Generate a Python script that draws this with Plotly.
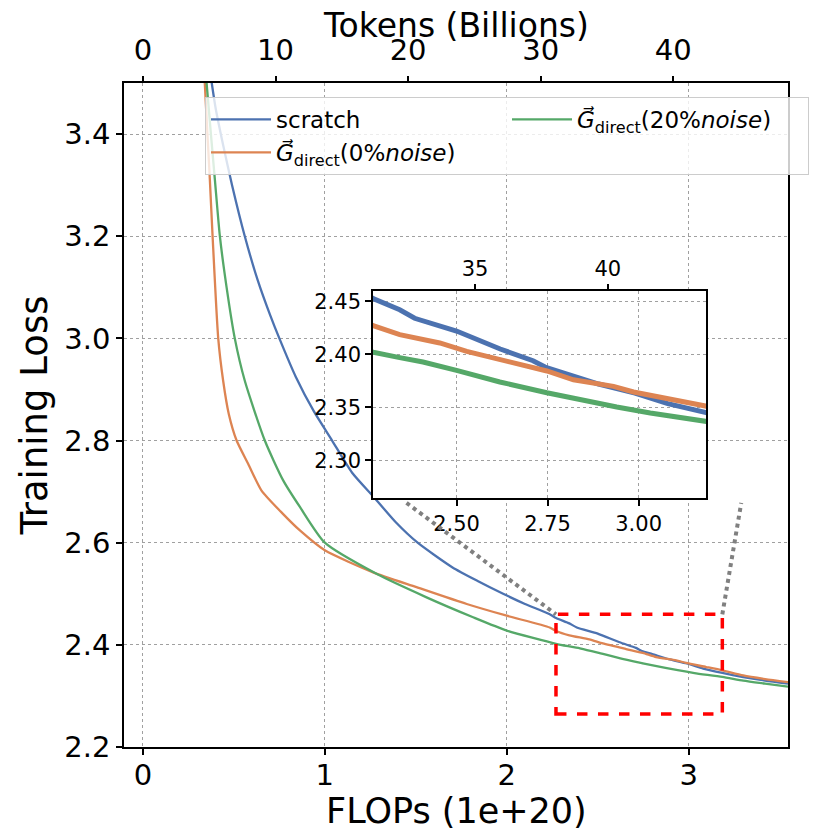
import plotly.graph_objects as go

# Data ------------------------------------------------------------------
# x = FLOPs (1e+20), y = training loss
scratch_flops = [0.37, 0.40, 0.44, 0.49, 0.56, 0.63, 0.70, 0.75, 0.84, 0.94, 1.04, 1.15, 1.27,
                 1.39, 1.51, 1.70, 1.84, 1.98, 2.10, 2.236, 2.271, 2.344, 2.385, 2.50, 2.62,
                 2.71, 2.743, 2.80, 2.89, 2.99, 3.08, 3.185, 3.30, 3.42, 3.546]
scratch_loss = [3.52, 3.45, 3.38, 3.30, 3.20, 3.115, 3.045, 3.00, 2.925, 2.857, 2.80, 2.737, 2.689,
                2.64, 2.60, 2.552, 2.525, 2.50, 2.48, 2.46, 2.4525, 2.442, 2.434, 2.422, 2.405,
                2.394, 2.388, 2.382, 2.372, 2.3635, 2.3535, 2.345, 2.337, 2.330, 2.324]

noise0_flops = [0.335, 0.34, 0.368, 0.383, 0.414, 0.441, 0.472, 0.515, 0.579, 0.652, 0.771, 0.863,
                1.0, 1.265, 1.504, 1.78, 2.0, 2.236, 2.271, 2.344, 2.454, 2.528, 2.656, 2.748,
                2.821, 2.931, 2.986, 3.096, 3.185, 3.30, 3.42, 3.546]
noise0_loss = [3.55, 3.50, 3.31, 3.20, 3.00, 2.917, 2.852, 2.80, 2.754, 2.702, 2.656, 2.624,
               2.585, 2.542, 2.513, 2.48, 2.457, 2.434, 2.427, 2.4186, 2.4107, 2.4028, 2.3918, 2.3843,
               2.376, 2.3698, 2.3645, 2.3566, 2.350, 2.340, 2.333, 2.327]

noise20_flops = [0.345, 0.35, 0.396, 0.423, 0.46, 0.505, 0.56, 0.67, 0.771, 0.863, 1.0, 1.284,
                 1.559, 1.815, 2.0, 2.271, 2.344, 2.408, 2.5, 2.619, 2.748, 2.803, 2.94, 3.032,
                 3.185, 3.30, 3.42, 3.546]
noise20_loss = [3.53, 3.50, 3.309, 3.20, 3.10, 3.00, 2.917, 2.80, 2.722, 2.67, 2.60, 2.539,
                2.493, 2.454, 2.428, 2.402, 2.3969, 2.3928, 2.3849, 2.3739, 2.3638, 2.3597, 2.3503, 2.3447,
                2.3371, 2.330, 2.324, 2.318]

series_names = ['scratch',
                '<i>G⃗</i><sub>direct</sub>(0%<i>noise</i>)',
                '<i>G⃗</i><sub>direct</sub>(20%<i>noise</i>)']
series_colors = ['#4C72B0', '#DD8452', '#55A868']
legend_ranks = [1, 3, 2]   # matplotlib ncol=2 fills column-wise

# Axis setup
tokens_per_flop = 13.72                     # billions of tokens per 1e20 FLOPs
main_x_range = [-0.104, 3.546]
main_y_range = [2.2, 3.5]
main_x_ticks = [0, 1, 2, 3]
token_ticks = [0, 10, 20, 30, 40]
zoom_x_range = [2.2706, 3.185]
zoom_y_range = [2.2645, 2.4597]
zoom_x_ticks = [2.5, 2.75, 3.0]
zoom_token_ticks = [35, 40]
# inset connector end points on the main axes
connector_left = (1.449, 2.678)
connector_right = (3.289, 2.678)

FONT = 'DejaVu Sans'
GRID = dict(showgrid=True, gridcolor='#a0a0a0', griddash='dot', gridwidth=1.2, zeroline=False)
FRAME = dict(showline=True, linecolor='black', linewidth=1.6, mirror=True,
             ticks='outside', ticklen=6, tickwidth=1.5, tickcolor='black')

fig = go.Figure()

data = [(scratch_flops, scratch_loss), (noise0_flops, noise0_loss), (noise20_flops, noise20_loss)]

# Main curves
for (xs, ys), name, color, rank in zip(data, series_names, series_colors, legend_ranks):
    fig.add_trace(go.Scatter(x=xs, y=ys, mode='lines', name=name, legendrank=rank,
                             line=dict(color=color, width=2.3, shape='spline', smoothing=0.6),
                             xaxis='x', yaxis='y'))

# Inset curves (same data, zoomed axes)
for (xs, ys), name, color in zip(data, series_names, series_colors):
    fig.add_trace(go.Scatter(x=xs, y=ys, mode='lines', name=name, showlegend=False,
                             line=dict(color=color, width=5), xaxis='x3', yaxis='y3'))

# invisible copies so the token (top) axes get drawn
fig.add_trace(go.Scatter(x=[v * tokens_per_flop for v in scratch_flops], y=scratch_loss,
                         mode='lines', opacity=0, showlegend=False, hoverinfo='skip',
                         xaxis='x2', yaxis='y'))
fig.add_trace(go.Scatter(x=[v * tokens_per_flop for v in scratch_flops], y=scratch_loss,
                         mode='lines', opacity=0, showlegend=False, hoverinfo='skip',
                         xaxis='x4', yaxis='y3'))

# Zoom rectangle + connectors
fig.add_shape(type='rect', xref='x', yref='y',
              x0=zoom_x_range[0], x1=zoom_x_range[1], y0=zoom_y_range[0], y1=zoom_y_range[1],
              line=dict(color='red', width=3.5, dash='dash'))
fig.add_shape(type='line', xref='x', yref='y',
              x0=connector_left[0], y0=connector_left[1], x1=zoom_x_range[0], y1=zoom_y_range[1],
              line=dict(color='gray', width=4, dash='dot'))
fig.add_shape(type='line', xref='x', yref='y',
              x0=zoom_x_range[1], y0=zoom_y_range[1], x1=connector_right[0], y1=connector_right[1],
              line=dict(color='gray', width=4, dash='dot'))

# white background behind inset
fig.add_shape(type='rect', xref='x3 domain', yref='y3 domain', x0=0, x1=1, y0=0, y1=1,
              fillcolor='white', line=dict(width=0), layer='below')

# x axis titles as annotations (axis titles get pinned inside the margins)
fig.add_annotation(text='FLOPs (1e+20)', xref='paper', yref='paper', x=0.5, y=-0.0964,
                   xanchor='center', yanchor='middle', showarrow=False, font=dict(size=35))
fig.add_annotation(text='Tokens (Billions)', xref='paper', yref='paper', x=0.5, y=1.0873,
                   xanchor='center', yanchor='middle', showarrow=False, font=dict(size=33))

fig.update_layout(
    width=830, height=830,
    # page body adds an 8px offset, so margins are shifted to compensate
    margin=dict(l=116, r=50, t=75, b=91, autoexpand=False),
    paper_bgcolor='white', plot_bgcolor='white',
    font=dict(family=FONT, color='black'),
    xaxis=dict(range=main_x_range, tickvals=main_x_ticks, tickfont=dict(size=29),
               ticklabelstandoff=-5, anchor='y', **GRID, **FRAME),
    yaxis=dict(range=main_y_range, dtick=0.2, tickformat='.1f', tickfont=dict(size=29),
               title=dict(text='Training Loss', font=dict(size=37), standoff=5),
               anchor='x', **GRID, **FRAME),
    xaxis2=dict(overlaying='x', side='top', anchor='y',
                range=[v * tokens_per_flop for v in main_x_range], tickvals=token_ticks,
                tickfont=dict(size=29), showgrid=False, zeroline=False,
                ticks='outside', ticklen=6, tickwidth=1.5, tickcolor='black', ticklabelstandoff=4),
    xaxis3=dict(domain=[0.375, 0.8765], anchor='y3', range=zoom_x_range, tickvals=zoom_x_ticks,
                tickformat='.2f', tickfont=dict(size=21), **GRID, **FRAME),
    yaxis3=dict(domain=[0.375, 0.6867], anchor='x3', range=zoom_y_range, dtick=0.05,
                tickformat='.2f', tickfont=dict(size=21), **GRID, **FRAME),
    xaxis4=dict(overlaying='x3', side='top', anchor='y3',
                range=[v * tokens_per_flop for v in zoom_x_range], tickvals=zoom_token_ticks,
                tickfont=dict(size=21), showgrid=False, zeroline=False,
                ticks='outside', ticklen=6, tickwidth=1.5, tickcolor='black'),
    legend=dict(orientation='h', x=0.122, y=0.979, xanchor='left', yanchor='top',
                entrywidth=226, entrywidthmode='pixels', itemwidth=60,
                bgcolor='rgba(255,255,255,0.8)', bordercolor='#cccccc', borderwidth=1,
                font=dict(size=23, family=FONT)),
    showlegend=True,
)

fig.write_html("out.html")
